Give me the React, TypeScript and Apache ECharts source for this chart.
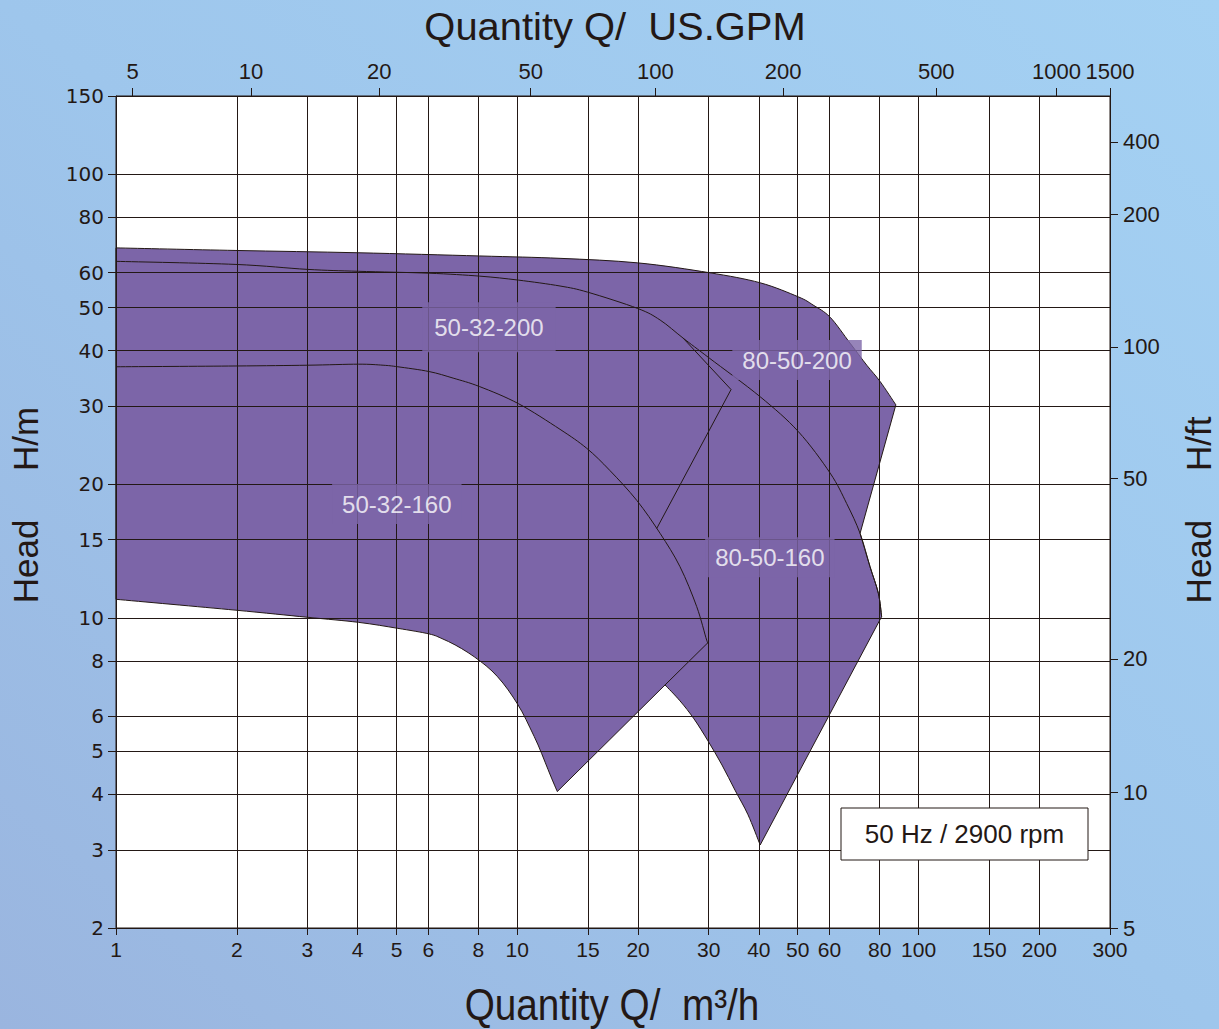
import React, { useEffect, useRef } from 'react';
import * as echarts from 'echarts';

// ---- axis ticks (data units) ----
const Q_TICKS = [1, 2, 3, 4, 5, 6, 8, 10, 15, 20, 30, 40, 50, 60, 80, 100, 150, 200, 300];
const H_TICKS = [2, 3, 4, 5, 6, 8, 10, 15, 20, 30, 40, 50, 60, 80, 100, 150];
// US GPM labels printed on the top scale and the flow (m3/h) where each one sits
const GPM_LABELS = ['5', '10', '20', '50', '100', '200', '500', '1000', '1500'];
const GPM_AT_Q = [1.1, 2.17, 4.53, 10.8, 22.1, 46.0, 110.7, 220.7, 300];
// ft labels printed on the right scale and the head (m) where each one sits
const FT_LABELS = ['5', '10', '20', '50', '100', '200', '400'];
const FT_AT_H = [2, 4.04, 8.08, 20.6, 40.8, 81.2, 118.3];

// ---- envelope edges (Q m3/h, H m) ----
const TOP_EDGE: [number, number][] = [
  [1, 68.2], [1.98, 67.3], [4.01, 66.5], [8.06, 65.4], [12.78, 64.6], [19.96, 63.1],
  [30.1, 59.96], [40.3, 56.9], [50.15, 52.9], [54.6, 50.7], [60.2, 47.6], [67.5, 41.6],
  [74.3, 37.1], [80.2, 34.1], [87.8, 30.2],
];
// upper inner curve (its last part is also the envelope's right edge)
const CURVE_UPPER: [number, number][] = [
  [1, 63.6], [1.98, 62.6], [3.0, 61.0], [4.02, 60.4], [6.03, 59.8], [8.06, 58.9], [10.06, 57.7],
  [12.78, 55.96], [14.98, 54.2], [19.96, 49.8], [22.7, 46.9], [25.9, 42.7], [30.1, 38.5],
  [40.3, 31.5], [50.15, 26.3], [60.2, 21.2], [66.2, 18.1], [71.5, 15.5], [75.7, 13.04],
  [79.4, 11.36], [80.9, 10.06],
];
const MIN_80_50_160: [number, number][] = [
  [40.3, 3.077], [37.58, 3.6], [34.88, 4.09], [32.37, 4.66], [29.88, 5.28], [27.57, 5.92],
  [25.44, 6.5], [23.35, 7.06],
];
const MIN_50_32_160: [number, number][] = [
  [12.58, 4.06], [12.14, 4.38], [11.73, 4.73], [11.27, 5.17], [10.76, 5.65], [10.28, 6.14],
  [9.76, 6.63], [9.21, 7.13], [8.65, 7.59], [8.08, 7.99], [7.54, 8.35], [7.0, 8.69],
  [6.49, 8.98], [6.03, 9.2], [5.04, 9.47], [4.02, 9.77], [3.0, 10.03], [1.98, 10.41], [1, 11.01],
];
const CURVE_MIDDLE: [number, number][] = [
  [1, 36.8], [1.98, 36.95], [3.0, 37.1], [4.02, 37.3], [4.63, 37.1], [5.04, 36.8], [6.03, 35.9],
  [6.92, 34.7], [8.06, 33.2], [10.06, 30.4], [12.78, 26.6], [14.9, 24.1], [17.0, 21.5],
  [19.85, 18.4], [22.7, 15.5], [25.44, 13.04], [28.0, 10.6], [29.65, 8.91], [29.97, 8.82],
];
const DIVIDER: [number, number][] = [[25.9, 42.7], [34.1, 32.7], [22.26, 15.9]];
const NOTCH_EDGE: [number, number][] = [[29.97, 8.82], [23.35, 7.06]];

const MODEL_NAMES = ['50-32-200', '80-50-200', '50-32-160', '80-50-160'];
const MODEL_LABEL_AT: [number, number][] = [[8.5, 45.2], [49.8, 38.1], [5.01, 18.05], [42.6, 13.7]];

const INK = '#231815';
const PURPLE = '#7c65a8';
const SANS = 'Liberation Sans, Arial, sans-serif';
const WIDE = 'DejaVu Sans, Liberation Sans, sans-serif';

const labelAt = (positions: number[], labels: string[]) => (v: number) => {
  let best = 0;
  let d = Infinity;
  positions.forEach((p, i) => {
    const dd = Math.abs(Math.log(p) - Math.log(v));
    if (dd < d) { d = dd; best = i; }
  });
  return labels[best];
};

type Seg = { pts: number[][]; smooth: boolean };

// builds an SVG path through already projected points; smooth parts use a Catmull-Rom spline
const buildPath = (segs: Seg[], close: boolean) => {
  let d = '';
  segs.forEach((seg, si) => {
    const p = seg.pts;
    if (si === 0) d += `M${p[0][0]},${p[0][1]}`;
    else d += `L${p[0][0]},${p[0][1]}`;
    for (let i = 0; i < p.length - 1; i++) {
      const p1 = p[i];
      const p2 = p[i + 1];
      if (seg.smooth) {
        const p0 = p[i - 1] || p1;
        const p3 = p[i + 2] || p2;
        const c1 = [p1[0] + (p2[0] - p0[0]) / 6, p1[1] + (p2[1] - p0[1]) / 6];
        const c2 = [p2[0] - (p3[0] - p1[0]) / 6, p2[1] - (p3[1] - p1[1]) / 6];
        d += `C${c1[0]},${c1[1]} ${c2[0]},${c2[1]} ${p2[0]},${p2[1]}`;
      } else {
        d += `L${p2[0]},${p2[1]}`;
      }
    }
  });
  if (close) d += 'Z';
  return d;
};

export default function App() {
  const ref = useRef<HTMLDivElement>(null);
  useEffect(() => {
    if (!ref.current) return;
    const chart = echarts.init(ref.current, undefined, { renderer: 'svg' });
    const axisLabelBase = { color: INK, hideOverlap: false };
    const upperTail = CURVE_UPPER.slice(-4);
    const option: any = {
      animation: false,
      backgroundColor: new echarts.graphic.LinearGradient(0, 1, 1, 0, [
        { offset: 0, color: '#9ab5df' },
        { offset: 0.5, color: '#9ec6ec' },
        { offset: 1, color: '#a4d1f3' },
      ]),
      grid: {
        left: 116, top: 96, width: 994, height: 832, show: true,
        backgroundColor: '#ffffff', borderColor: INK, borderWidth: 1, outerBoundsMode: 'none',
      },
      xAxis: [
        {
          type: 'log', position: 'bottom', min: 1, max: 300, z: 5,
          axisLine: { show: true, lineStyle: { color: INK } },
          axisTick: { show: true, customValues: Q_TICKS, length: 7, lineStyle: { color: INK } },
          axisLabel: { ...axisLabelBase, customValues: Q_TICKS, margin: 11, fontSize: 21, fontFamily: SANS, formatter: (v: number) => String(v) },
          splitLine: { show: true, lineStyle: { color: INK, width: 1 } },
          minorTick: { show: false }, minorSplitLine: { show: false },
        },
        {
          type: 'log', position: 'top', min: 1, max: 300, z: 5,
          axisLine: { show: true, lineStyle: { color: INK } },
          axisTick: { show: true, customValues: GPM_AT_Q, length: 8, lineStyle: { color: INK } },
          axisLabel: { ...axisLabelBase, customValues: GPM_AT_Q, margin: 14, fontSize: 22, fontFamily: SANS, formatter: labelAt(GPM_AT_Q, GPM_LABELS) },
          splitLine: { show: false },
        },
      ],
      yAxis: [
        {
          type: 'log', position: 'left', min: 2, max: 150, z: 5,
          axisLine: { show: true, lineStyle: { color: INK } },
          axisTick: { show: true, customValues: H_TICKS, length: 8, lineStyle: { color: INK } },
          axisLabel: { ...axisLabelBase, customValues: H_TICKS, margin: 12, fontSize: 20, fontFamily: WIDE, formatter: (v: number) => String(v) },
          splitLine: { show: true, lineStyle: { color: INK, width: 1 } },
        },
        {
          type: 'log', position: 'right', min: 2, max: 150, z: 5,
          axisLine: { show: true, lineStyle: { color: INK } },
          axisTick: { show: true, customValues: FT_AT_H, length: 8, lineStyle: { color: INK } },
          axisLabel: { ...axisLabelBase, customValues: FT_AT_H, margin: 13, fontSize: 22, fontFamily: SANS, formatter: labelAt(FT_AT_H, FT_LABELS) },
          splitLine: { show: false },
        },
      ],
      series: [
        {
          type: 'custom',
          coordinateSystem: 'cartesian2d',
          data: [TOP_EDGE[0]],
          silent: true,
          z: 2,
          renderItem: (_params: any, api: any) => {
            const px = (arr: [number, number][]) => arr.map((p) => api.coord(p));
            const envelope = buildPath([
              { pts: px(TOP_EDGE), smooth: true },
              { pts: px(upperTail), smooth: true },
              { pts: px(MIN_80_50_160), smooth: true },
              { pts: px(MIN_50_32_160), smooth: true },
            ], true);
            const stroke = { fill: 'none', stroke: INK, lineWidth: 1 };
            return {
              type: 'group',
              children: [
                { type: 'path', shape: { pathData: envelope }, style: { fill: PURPLE, stroke: INK, lineWidth: 1 } },
                { type: 'path', shape: { pathData: buildPath([{ pts: px(CURVE_UPPER), smooth: true }], false) }, style: stroke },
                { type: 'path', shape: { pathData: buildPath([{ pts: px(CURVE_MIDDLE), smooth: true }], false) }, style: stroke },
                { type: 'path', shape: { pathData: buildPath([{ pts: px(DIVIDER), smooth: false }], false) }, style: stroke },
                { type: 'path', shape: { pathData: buildPath([{ pts: px(NOTCH_EDGE), smooth: false }], false) }, style: stroke },
              ],
            };
          },
        },
        {
          type: 'scatter',
          silent: true,
          z: 10,
          symbolSize: 0,
          data: MODEL_LABEL_AT.map((p, i) => ({
            value: p,
            name: MODEL_NAMES[i],
            label: i === 0 ? { padding: [13, 12] } : { padding: [8, 10] },
          })),
          label: {
            show: true, position: 'inside', formatter: '{b}', color: '#ffffff',
            fontSize: 24, fontFamily: SANS, backgroundColor: PURPLE,
          },
        },
      ],
      graphic: [
        { type: 'text', x: 615, y: 27, scaleX: 1.05, z: 50, style: { text: 'Quantity Q/  US.GPM', fill: INK, fontSize: 38, fontFamily: SANS, align: 'center', verticalAlign: 'middle' } },
        { type: 'text', x: 612, y: 1005, scaleX: 0.88, z: 50, style: { text: 'Quantity Q/  m³/h', fill: INK, fontSize: 44, fontFamily: SANS, align: 'center', verticalAlign: 'middle' } },
        { type: 'text', x: 25, y: 505, rotation: Math.PI / 2, z: 50, style: { text: 'Head     H/m', fill: INK, fontSize: 35, fontFamily: SANS, align: 'center', verticalAlign: 'middle' } },
        { type: 'text', x: 1198, y: 510, rotation: Math.PI / 2, z: 50, style: { text: 'Head     H/ft', fill: INK, fontSize: 35, fontFamily: SANS, align: 'center', verticalAlign: 'middle' } },
        { type: 'rect', x: 841, y: 808, z: 60, shape: { width: 247, height: 52 }, style: { fill: '#ffffff', stroke: INK, lineWidth: 1 } },
        { type: 'text', x: 964.5, y: 834, z: 61, style: { text: '50 Hz / 2900 rpm', fill: INK, fontSize: 26, fontFamily: SANS, align: 'center', verticalAlign: 'middle' } },
      ],
    };
    chart.setOption(option);
    return () => chart.dispose();
  }, []);
  return <div ref={ref} style={{ position: 'absolute', left: 0, top: 0, width: 1219, height: 1029 }} />;
}
